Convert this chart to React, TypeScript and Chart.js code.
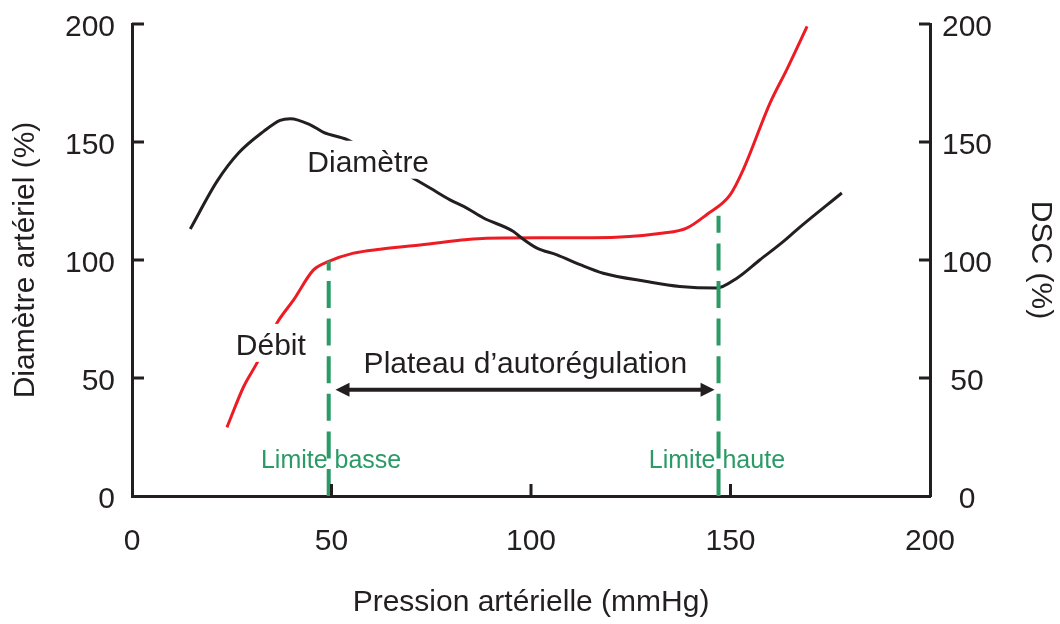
import React, { useEffect, useRef } from "react";
import { Chart, registerables } from "chart.js";

Chart.register(...registerables);

// Courbe du diamètre artériel (%) en fonction de la pression (mmHg)
const diameterPressure = [14.6, 21.3, 26.7, 33, 37.1, 39.7, 44.7, 48, 53.9, 62, 69.7, 74.7, 79.7, 83.9, 88.1, 95.6, 97.5, 101.5, 106.5, 112.3, 118.1, 129, 137.3, 146.5, 151.6, 157.4, 163.2, 166.6, 177.9];
const diameterValues = [113.1, 133.3, 145.3, 154.5, 159.2, 159.9, 157.3, 154.1, 151, 143, 135.4, 130.5, 125.5, 122, 117.8, 112.1, 109.5, 105, 102.2, 98, 94.4, 90.9, 88.8, 88.1, 92.3, 100.1, 107.8, 112.8, 128.4];

// Courbe du débit sanguin cérébral (DSC, %)
const flowPressure = [23.8, 28, 31.3, 36.3, 40.5, 45.5, 49.3, 55.5, 62.2, 72.2, 88.9, 102.3, 115.6, 133.2, 139, 144, 149.9, 153.2, 159.9, 164.1, 169.2];
const flowValues = [29.1, 46.4, 56.3, 73.2, 83.1, 95.8, 99.4, 102.9, 104.6, 106.4, 109.2, 109.4, 109.4, 111.4, 113.5, 119.2, 127.6, 138.3, 166.5, 180.7, 199];

// Axes
const xTickValues = [0, 50, 100, 150, 200];
const yTickValues = [0, 50, 100, 150, 200];
const innerXTicks = [50, 100, 150];
const innerYTicks = [50, 100, 150, 200];

// Limites d'autorégulation
const limitPressures = [49.3, 147];
const limitTops = [99.7, 118.7];
const limitLabels = ["Limite basse", "Limite haute"];
const limitLabelX = [49.9, 146.6];
const limitLabelY = 11.7;

// Plateau
const plateauRange = [51, 146];
const plateauLevel = 45;
const plateauLabel = "Plateau d\u2019autorégulation";
const plateauLabelPos = [98.6, 52];

// Étiquettes des courbes
const curveLabels = ["Diamètre", "Débit"];
const curveLabelX = [59.2, 34.8];
const curveLabelY = [137.4, 59.8];

const FONT = "'Liberation Sans', Arial, Helvetica, sans-serif";
const INK = "#231f20";
const RED = "#ed1c24";
const GREEN = "#2a9a66";

const zeroPad = (s: any) => {
  s.paddingTop = 0;
  s.paddingBottom = 0;
  s.paddingLeft = 0;
  s.paddingRight = 0;
};

const annotPlugin = {
  id: "annot",
  afterDatasetsDraw(chart: any) {
    const ctx = chart.ctx as CanvasRenderingContext2D;
    const xs = chart.scales.x;
    const ys = chart.scales.y;
    ctx.save();

    // curve labels on white boxes
    ctx.font = `30px ${FONT}`;
    ctx.textAlign = "center";
    ctx.textBaseline = "alphabetic";
    curveLabels.forEach((t, i) => {
      const px = xs.getPixelForValue(curveLabelX[i]);
      const py = ys.getPixelForValue(curveLabelY[i]);
      const w = ctx.measureText(t).width;
      ctx.fillStyle = "#ffffff";
      ctx.fillRect(px - w / 2 - 6, py - 31, w + 12, 38);
      ctx.fillStyle = INK;
      ctx.fillText(t, px, py);
    });

    // dashed limits
    ctx.strokeStyle = GREEN;
    ctx.lineWidth = 4;
    ctx.lineCap = "butt";
    ctx.setLineDash([27, 10.6]);
    limitPressures.forEach((p, i) => {
      const px = xs.getPixelForValue(p);
      ctx.beginPath();
      ctx.moveTo(px, ys.getPixelForValue(0));
      ctx.lineTo(px, ys.getPixelForValue(limitTops[i]));
      ctx.stroke();
    });
    ctx.setLineDash([]);

    // limit labels
    ctx.font = `25px ${FONT}`;
    ctx.fillStyle = GREEN;
    limitLabels.forEach((t, i) => {
      ctx.fillText(t, xs.getPixelForValue(limitLabelX[i]), ys.getPixelForValue(limitLabelY));
    });

    // plateau arrow
    const ay = ys.getPixelForValue(plateauLevel);
    const ax1 = xs.getPixelForValue(plateauRange[0]);
    const ax2 = xs.getPixelForValue(plateauRange[1]);
    const hl = 14;
    const hw = 7;
    ctx.strokeStyle = INK;
    ctx.fillStyle = INK;
    ctx.lineWidth = 4;
    ctx.beginPath();
    ctx.moveTo(ax1 + hl - 2, ay);
    ctx.lineTo(ax2 - hl + 2, ay);
    ctx.stroke();
    ctx.beginPath();
    ctx.moveTo(ax1, ay);
    ctx.lineTo(ax1 + hl, ay - hw);
    ctx.lineTo(ax1 + hl, ay + hw);
    ctx.closePath();
    ctx.fill();
    ctx.beginPath();
    ctx.moveTo(ax2, ay);
    ctx.lineTo(ax2 - hl, ay - hw);
    ctx.lineTo(ax2 - hl, ay + hw);
    ctx.closePath();
    ctx.fill();

    ctx.font = `30px ${FONT}`;
    ctx.fillText(plateauLabel, xs.getPixelForValue(plateauLabelPos[0]), ys.getPixelForValue(plateauLabelPos[1]));
    ctx.restore();
  },
  afterDraw(chart: any) {
    const ctx = chart.ctx as CanvasRenderingContext2D;
    const xs = chart.scales.x;
    const ys = chart.scales.y;
    const { left, right, bottom } = chart.chartArea;
    ctx.save();
    ctx.strokeStyle = INK;
    ctx.lineWidth = 3;
    ctx.beginPath();
    innerXTicks.forEach((v) => {
      const px = xs.getPixelForValue(v);
      ctx.moveTo(px, bottom);
      ctx.lineTo(px, bottom - 12);
    });
    innerYTicks.forEach((v) => {
      const py = ys.getPixelForValue(v);
      ctx.moveTo(left, py);
      ctx.lineTo(left + 12, py);
      ctx.moveTo(right, py);
      ctx.lineTo(right - 11, py);
    });
    ctx.stroke();
    ctx.restore();
  },
};

export default function App() {
  const ref = useRef<HTMLCanvasElement | null>(null);

  useEffect(() => {
    if (!ref.current) return;
    const tickFont = { family: FONT, size: 30 };
    const chart = new Chart(ref.current, {
      type: "line",
      data: {
        datasets: [
          {
            label: "Diamètre",
            data: diameterPressure.map((x, i) => ({ x, y: diameterValues[i] })),
            borderColor: INK,
            borderWidth: 3,
            pointRadius: 0,
            cubicInterpolationMode: "monotone",
            yAxisID: "y",
          },
          {
            label: "Débit",
            data: flowPressure.map((x, i) => ({ x, y: flowValues[i] })),
            borderColor: RED,
            borderWidth: 3,
            pointRadius: 0,
            cubicInterpolationMode: "monotone",
            yAxisID: "y2",
          },
        ],
      },
      options: {
        animation: false,
        responsive: false,
        maintainAspectRatio: false,
        layout: { padding: { left: 0, right: 0, top: 24, bottom: 0 } },
        plugins: { legend: { display: false }, tooltip: { enabled: false } },
        scales: {
          x: {
            type: "linear",
            position: "bottom",
            min: 0,
            max: 200,
            afterBuildTicks: (s: any) => {
              s.ticks = xTickValues.map((v) => ({ value: v }));
            },
            grid: { display: false, drawTicks: false },
            border: { display: true, width: 3, color: INK },
            ticks: { font: tickFont, color: INK, padding: 28, maxRotation: 0, autoSkip: false },
            title: {
              display: true,
              text: "Pression artérielle (mmHg)",
              font: tickFont,
              color: INK,
              padding: { top: 0, bottom: 3 },
            },
            afterFit: (s: any) => {
              s.height = 128;
              zeroPad(s);
            },
          },
          y: {
            type: "linear",
            position: "left",
            min: 0,
            max: 200,
            afterBuildTicks: (s: any) => {
              s.ticks = yTickValues.map((v) => ({ value: v }));
            },
            grid: { display: false, drawTicks: false },
            border: { display: true, width: 3, color: INK },
            ticks: { font: tickFont, color: INK, padding: 17, labelOffset: 4, autoSkip: false },
            title: {
              display: true,
              text: "Diamètre artériel (%)",
              font: tickFont,
              color: INK,
              padding: { top: 8, bottom: 0 },
            },
            afterFit: (s: any) => {
              s.width = 132;
              zeroPad(s);
            },
          },
          y2: {
            type: "linear",
            position: "right",
            min: 0,
            max: 200,
            afterBuildTicks: (s: any) => {
              s.ticks = yTickValues.map((v) => ({ value: v }));
            },
            grid: { display: false, drawTicks: false },
            border: { display: true, width: 3, color: INK },
            ticks: { font: tickFont, color: INK, padding: 12, labelOffset: 4, autoSkip: false, crossAlign: "center" },
            title: {
              display: true,
              text: "DSC (%)",
              font: tickFont,
              color: INK,
              padding: { top: 2, bottom: 0 },
            },
            afterFit: (s: any) => {
              s.width = 130;
              zeroPad(s);
            },
          },
        },
      } as any,
      plugins: [annotPlugin],
    });
    return () => chart.destroy();
  }, []);

  return (
    <div style={{ position: "absolute", left: 0, top: 0, width: 1060, height: 624, background: "#fff" }}>
      <canvas ref={ref} width={1060} height={624} style={{ display: "block" }} />
    </div>
  );
}
